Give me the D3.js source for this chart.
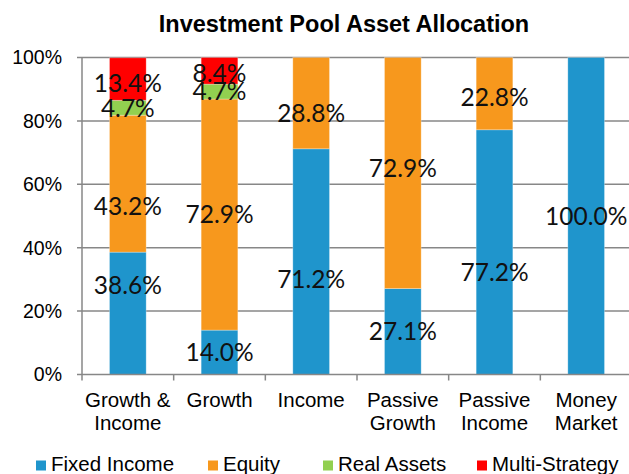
<!DOCTYPE html>
<html>
<head>
<meta charset="utf-8">
<script src="https://cdn.jsdelivr.net/npm/d3@7"></script>
<style>
  html, body { margin: 0; padding: 0; background: #fff; }
  svg { display: block; }
</style>
</head>
<body>
<svg id="chart" width="629" height="474"></svg>
<script>
// ---- data ----
const categories = [["Growth &", "Income"], ["Growth"], ["Income"], ["Passive", "Growth"], ["Passive", "Income"], ["Money", "Market"]];
const seriesNames = ["Fixed Income", "Equity", "Real Assets", "Multi-Strategy"];
const fixedIncome = [38.6, 14.0, 71.2, 27.1, 77.2, 100.0];
const equity = [43.2, 72.9, 28.8, 72.9, 22.8, 0];
const realAssets = [4.7, 4.7, 0, 0, 0, 0];
const multiStrategy = [13.4, 8.4, 0, 0, 0, 0];
const yTicks = [0, 20, 40, 60, 80, 100];

// ---- layout / style ----
const colors = ["#1f95cc", "#f7981d", "#92d050", "#ff0000"];
// manual label nudges (px) to mimic the reference placement
const labelNudge = [
  [-28, 0, 18, 0, 20, 0],
  [23, 0, 10, -5, 4, 0],
  [0, 0, 0, 0, 0, 0],
  [4, 2, 0, 0, 0, 0]
];
const legendX = [36, 208, 323, 477];

const svg = d3.select("#chart");
const W = 629, H = 474;
const x0 = 82, x1 = 632, yTop = 57.5, yBot = 374.5;

const x = d3.scaleBand().domain(d3.range(categories.length)).range([x0, x1]).paddingInner(0.6).paddingOuter(0.3);
const band = d3.scaleBand().domain(d3.range(categories.length)).range([x0, x1]);
const y = d3.scaleLinear().domain([0, 100]).range([yBot, yTop]);

const labelFont = "Lato, 'Open Sans', sans-serif";
const axisFont = "'Liberation Sans', Arial, sans-serif";

// title
svg.append("text")
  .attr("x", 344).attr("y", 31.5)
  .attr("text-anchor", "middle")
  .attr("font-family", axisFont).attr("font-weight", "bold").attr("font-size", 23.5)
  .attr("fill", "#000")
  .text("Investment Pool Asset Allocation");

// gridlines
svg.append("g").selectAll("line").data(yTicks.filter(d => d > 0)).join("line")
  .attr("x1", x0 - 5).attr("x2", W)
  .attr("y1", d => y(d)).attr("y2", d => y(d))
  .attr("stroke", "#878787").attr("stroke-width", 1.5);

// stacked bars
const table = categories.map((c, i) => ({
  "Fixed Income": fixedIncome[i], "Equity": equity[i], "Real Assets": realAssets[i], "Multi-Strategy": multiStrategy[i], idx: i
}));
const stacked = d3.stack().keys(seriesNames)(table);

const gBars = svg.append("g");
stacked.forEach((layer, si) => {
  gBars.append("g").selectAll("rect").data(layer.filter(d => d[1] - d[0] > 0)).join("rect")
    .attr("x", d => x(d.data.idx))
    .attr("width", x.bandwidth())
    .attr("y", d => y(d[1]))
    .attr("height", d => y(d[0]) - y(d[1]))
    .attr("fill", colors[si])
    .attr("stroke", "rgba(255,255,255,0.35)").attr("stroke-width", 0.8);
});

// y axis line
svg.append("line").attr("x1", x0).attr("x2", x0).attr("y1", yTop).attr("y2", yBot)
  .attr("stroke", "#878787").attr("stroke-width", 1.5);
// x axis line
svg.append("line").attr("x1", x0 - 5).attr("x2", W).attr("y1", yBot).attr("y2", yBot)
  .attr("stroke", "#878787").attr("stroke-width", 1.5);
// x ticks at band boundaries
svg.append("g").selectAll("line").data(d3.range(categories.length + 1)).join("line")
  .attr("x1", i => x0 + i * band.bandwidth()).attr("x2", i => x0 + i * band.bandwidth())
  .attr("y1", yBot).attr("y2", yBot + 6)
  .attr("stroke", "#878787").attr("stroke-width", 1.5);

// y tick labels
svg.append("g").selectAll("text").data(yTicks).join("text")
  .attr("x", 62).attr("y", d => y(d)).attr("dy", "0.35em")
  .attr("text-anchor", "end")
  .attr("font-family", axisFont).attr("font-size", 19.5).attr("fill", "#000")
  .text(d => d + "%");

// category labels
const gCat = svg.append("g");
categories.forEach((lines, i) => {
  const t = gCat.append("text")
    .attr("x", band(i) + band.bandwidth() / 2)
    .attr("text-anchor", "middle")
    .attr("font-family", axisFont).attr("font-size", 20.5).attr("fill", "#000");
  lines.forEach((ln, k) => {
    t.append("tspan").attr("x", band(i) + band.bandwidth() / 2).attr("y", 406.5 + k * 23.5).text(ln);
  });
});

// data labels
const gLab = svg.append("g");
stacked.forEach((layer, si) => {
  layer.forEach((d, i) => {
    const v = d[1] - d[0];
    if (v <= 0) return;
    gLab.append("text")
      .attr("x", x(i) + x.bandwidth() / 2)
      .attr("y", (y(d[0]) + y(d[1])) / 2 + labelNudge[si][i])
      .attr("dy", "0.36em")
      .attr("text-anchor", "middle")
      .attr("font-family", labelFont).attr("font-weight", 400).attr("font-size", 24.5).attr("fill", "#111")
      .text(v.toFixed(1) + "%");
  });
});

// legend
const gLeg = svg.append("g");
seriesNames.forEach((name, i) => {
  gLeg.append("rect").attr("x", legendX[i]).attr("y", 460.5).attr("width", 10).attr("height", 10).attr("fill", colors[i]);
  gLeg.append("text").attr("x", legendX[i] + 15).attr("y", 470.5)
    .attr("font-family", axisFont).attr("font-size", 20.5).attr("fill", "#000")
    .text(name);
});
</script>
</body>
</html>
